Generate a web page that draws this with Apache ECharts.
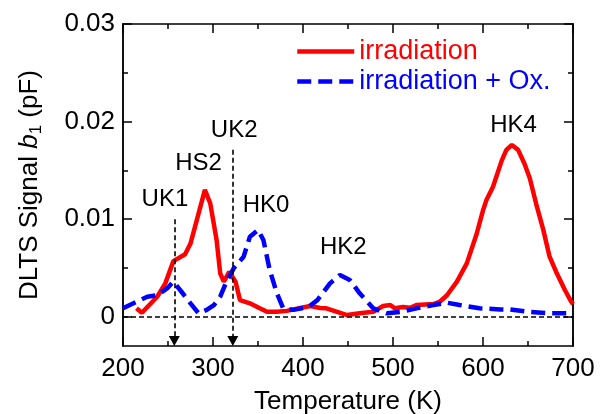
<!DOCTYPE html>
<html><head><meta charset="utf-8">
<style>html,body{margin:0;padding:0;background:#fff}#c{width:605px;height:414px}</style>
<script src="https://cdn.jsdelivr.net/npm/echarts/dist/echarts.min.js"></script>
</head><body><div id="c"></div>
<script>
// Temperature (K) and DLTS signal b1 (pF)
const irrT = [215, 221, 238, 247, 256, 269, 275, 282, 291, 297, 304, 308, 312, 318, 325, 330, 341, 352, 360, 371, 382, 397, 408, 419, 426, 449, 463, 478, 489, 497, 502, 511, 519, 526, 545, 552, 560, 571, 582, 593, 600, 604, 611, 621, 626, 632, 639, 646, 652, 659, 667, 674, 682, 691, 698, 700];
const irrV = [0.00086, 0.0004, 0.00205, 0.00342, 0.0057, 0.0064, 0.0075, 0.0099, 0.0130, 0.0116, 0.00786, 0.00445, 0.0036, 0.0046, 0.0036, 0.0017, 0.00137, 0.00086, 0.0005, 0.0005, 0.0006, 0.0009, 0.0011, 0.0009, 0.00086, 0.00017, 0.00035, 0.0005, 0.0011, 0.0012, 0.00086, 0.0010, 0.00092, 0.0012, 0.0013, 0.00154, 0.0022, 0.0036, 0.00547, 0.0085, 0.0109, 0.0120, 0.0133, 0.01605, 0.0171, 0.0176, 0.0171, 0.0157, 0.0142, 0.0116, 0.0089, 0.00615, 0.00445, 0.00274, 0.00154, 0.0013];
const oxT = [200, 215, 227, 238, 249, 256, 265, 275, 284, 293, 301, 308, 315, 323, 334, 341, 350, 356, 363, 371, 378, 389, 406, 416, 430, 441, 452, 463, 478, 493, 508, 526, 545, 560, 574, 596, 619, 630, 652, 674, 700];
const oxV = [0.00086, 0.00154, 0.00205, 0.0022, 0.0029, 0.0036, 0.00256, 0.00137, 0.00035, 0.0007, 0.0012, 0.00205, 0.0036, 0.00496, 0.00615, 0.0082, 0.0089, 0.00786, 0.0048, 0.0024, 0.00086, 0.0007, 0.0010, 0.0017, 0.00342, 0.00427, 0.00376, 0.0024, 0.00086, 0.00035, 0.0005, 0.00086, 0.0012, 0.00144, 0.0012, 0.00086, 0.00075, 0.00075, 0.0005, 0.00035, 0.00035];
const seriesNames = ['irradiation', 'irradiation + Ox.'];
const yMajor = [0, 0.01, 0.02, 0.03];
const yMinor = [0.005, 0.015, 0.025];
const peakNames = ['UK1', 'HS2', 'UK2', 'HK0', 'HK2', 'HK4'];
const peakLabelT = [246.6, 283.9, 323.5, 358.9, 444.8, 633.9];
const peakLabelV = [0.0120, 0.0157, 0.0191, 0.0114, 0.0071, 0.0196];
const arrowT = [257, 322];
const arrowTopV = [0.0100, 0.0171];
const yMin = -0.003, yMax = 0.03, xMin = 200, xMax = 700;

const FONT = 'Liberation Sans, Arial, sans-serif';
const black = '#000';
const zip = (a, b) => a.map((t, i) => [t, b[i]]);

function yAx(pos, ticks, len, labels) {
  return {
    type: 'value', position: pos, min: yMin, max: yMax,
    axisLine: { show: true, onZero: false, lineStyle: { color: black, width: 1.5 } },
    axisTick: { show: true, inside: true, length: len, customValues: ticks, lineStyle: { color: black, width: 1.5 } },
    axisLabel: labels ? { show: true, customValues: ticks, margin: 8, fontSize: 26, fontFamily: FONT, color: black,
      formatter: v => v === 0 ? '0' : (+v).toFixed(2) } : { show: false },
    splitLine: { show: false }
  };
}
function xAx(pos, labels) {
  return {
    type: 'value', position: pos, min: xMin, max: xMax, interval: 100,
    axisLine: { show: true, onZero: false, lineStyle: { color: black, width: 1.5 } },
    axisTick: { show: true, inside: true, length: 9, lineStyle: { color: black, width: 1.5 } },
    minorTick: { show: true, splitNumber: 2, length: 5, lineStyle: { color: black, width: 1.5 } },
    axisLabel: labels ? { show: true, margin: 10, fontSize: 26, fontFamily: FONT, color: black } : { show: false },
    splitLine: { show: false }, minorSplitLine: { show: false }
  };
}

const xa0 = xAx('bottom', true);
xa0.name = 'Temperature (K)';
xa0.nameLocation = 'middle';
xa0.nameGap = 43;
xa0.nameTextStyle = { fontSize: 26, fontFamily: FONT, color: black };
const ya0 = yAx('left', yMajor, 9, true);
ya0.name = '{n|DLTS Signal }{i|b}{s|1}{n| (pF)}';
ya0.nameLocation = 'middle';
ya0.nameGap = 78;
ya0.nameRotate = 90;
ya0.nameTextStyle = {
  fontFamily: FONT, color: black,
  rich: {
    n: { fontSize: 26, fontFamily: FONT, color: black, lineHeight: 30 },
    i: { fontSize: 26, fontFamily: FONT, fontStyle: 'italic', color: black, lineHeight: 30 },
    s: { fontSize: 17, fontFamily: FONT, color: black, lineHeight: 16, verticalAlign: 'bottom' }
  }
};

const dashBlack = { color: black, type: [5, 3], width: 1.6 };
const redStyle = { color: '#ff0000', width: 4.5 };
const blueStyle = { color: '#0000ff', width: 4.5, type: [14, 7] };

const option = {
  animation: false,
  backgroundColor: '#fff',
  grid: { left: 123, right: 32, top: 24, bottom: 68, containLabel: false, outerBoundsMode: 'none' },
  xAxis: [xa0, xAx('top', false)],
  yAxis: [ya0, yAx('left', yMinor, 5, false), yAx('right', yMajor, 9, false), yAx('right', yMinor, 5, false)],
  legend: {
    orient: 'vertical', left: 295, top: 38, padding: 0, itemWidth: 57, itemHeight: 14, itemGap: 3,
    itemStyle: { color: 'rgba(0,0,0,0)', borderColor: 'rgba(0,0,0,0)', borderWidth: 0, opacity: 0 },
    textStyle: { fontSize: 27, fontFamily: FONT, lineHeight: 27 },
    data: [
      { name: seriesNames[0], textStyle: { color: '#ff0000' }, lineStyle: { width: 4.5, color: '#ff0000' } },
      { name: seriesNames[1], textStyle: { color: '#0000ff' }, lineStyle: { width: 4.5, color: '#0000ff', type: [14, 7] } }
    ]
  },
  series: [
    {
      name: seriesNames[0], type: 'line', data: zip(irrT, irrV), showSymbol: false, symbol: 'none',
      lineStyle: redStyle, itemStyle: { color: '#ff0000' }, z: 3,
      markPoint: {
        symbol: 'circle', symbolSize: 0, silent: true,
        label: { show: true, position: 'inside', fontSize: 24, fontFamily: FONT, color: black, formatter: p => p.name },
        data: peakNames.map((n, i) => ({ name: n, coord: [peakLabelT[i], peakLabelV[i]] }))
      }
    },
    {
      name: seriesNames[1], type: 'line', data: zip(oxT, oxV), showSymbol: false, symbol: 'none',
      lineStyle: blueStyle, itemStyle: { color: '#0000ff' }, z: 4,
      markLine: {
        silent: true, animation: false, label: { show: false }, symbol: ['none', 'none'], z: 10,
        lineStyle: dashBlack,
        data: [
          [{ coord: [xMin, 0] }, { coord: [xMax, 0] }],
          [{ coord: [arrowT[0], arrowTopV[0]], symbol: 'none' }, { coord: [arrowT[0], yMin + 0.0005], symbol: 'triangle', symbolSize: [11, 10], itemStyle: { color: black } }],
          [{ coord: [arrowT[1], arrowTopV[1]], symbol: 'none' }, { coord: [arrowT[1], yMin + 0.0005], symbol: 'triangle', symbolSize: [11, 10], itemStyle: { color: black } }]
        ]
      }
    }
  ]
};
echarts.init(document.getElementById('c'), null, { renderer: 'canvas' }).setOption(option);
</script></body></html>
